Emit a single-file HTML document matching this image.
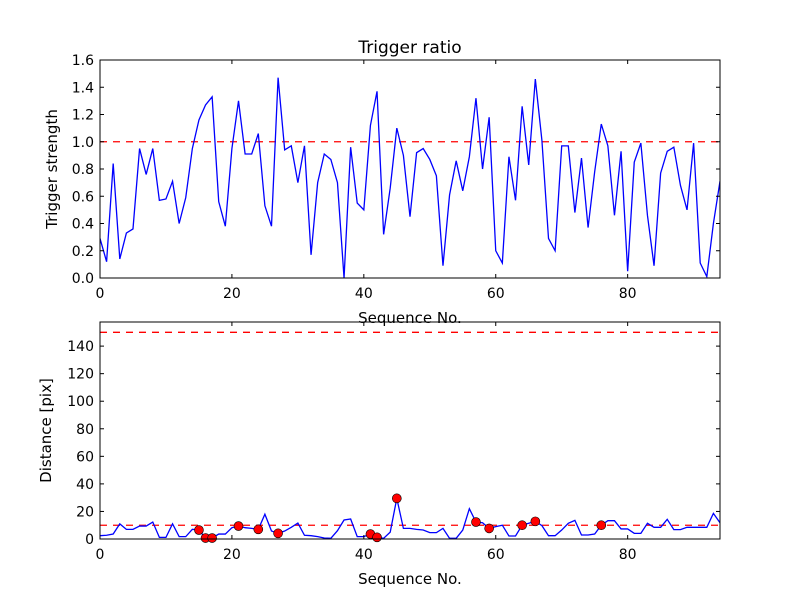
<!DOCTYPE html>
<html><head><meta charset="utf-8"><style>
body{margin:0;background:#fff}
svg{display:block;font-family:"DejaVu Sans","Liberation Sans",sans-serif}
</style></head><body>
<svg id="chart" width="800" height="600" viewBox="0 0 800 600" xmlns="http://www.w3.org/2000/svg">
<rect width="800" height="600" fill="#fff"/>
</svg>
<script>
const ratioValues=[0.29,0.12,0.84,0.14,0.33,0.36,0.95,0.76,0.95,0.57,0.58,0.71,0.40,0.59,0.95,1.16,1.27,1.33,0.56,0.38,0.95,1.30,0.91,0.91,1.06,0.53,0.38,1.47,0.94,0.97,0.70,0.97,0.17,0.70,0.91,0.87,0.70,0.0,0.96,0.55,0.50,1.12,1.37,0.32,0.66,1.10,0.90,0.45,0.92,0.95,0.87,0.75,0.09,0.61,0.86,0.64,0.89,1.32,0.80,1.18,0.20,0.11,0.89,0.57,1.26,0.83,1.46,1.01,0.29,0.20,0.97,0.97,0.48,0.88,0.37,0.78,1.13,0.97,0.46,0.93,0.05,0.85,0.99,0.46,0.09,0.77,0.93,0.96,0.68,0.50,0.99,0.11,0.01,0.40,0.71];
const distValues=[2.4,2.7,3.6,11,7,7,9.4,9.4,12.3,1.2,1.2,11,1.7,1.7,7,6.5,0.7,0.7,3.6,3.6,8.2,9.4,8.2,7.7,7,18,5.8,4.1,5.8,8.5,11.6,2.7,2.4,1.7,0.7,0.5,6,13.8,14.5,1.7,1.7,3.6,1.2,0.5,5,29.5,7.7,7.7,7,6.5,4.6,4.6,7.7,0.5,0.5,6.5,22,12.3,11.8,7.7,9,10,2.2,2.2,10,11.4,12.8,9.7,2.4,2.4,6.5,11.4,13.5,2.9,2.9,3.6,10,13.3,13.3,7.3,7.3,4.1,4.1,11.4,8.5,8.5,14.3,6.8,6.8,8.5,8.5,8.5,8.5,18.6,11.8];
const triggerIdx=[15,16,17,21,24,27,41,42,45,57,59,64,66,76];
const xTicks=[0,20,40,60,80];
const ratioTicks=[0.0,0.2,0.4,0.6,0.8,1.0,1.2,1.4,1.6];
const distTicks=[0,20,40,60,80,100,120,140];
const ratioThreshold=1.0;
const distThresholds=[10,150];

const NS="http://www.w3.org/2000/svg";
const svg=document.getElementById('chart');
function mk(tag,attrs,parent){const e=document.createElementNS(NS,tag);for(const k in attrs)e.setAttribute(k,attrs[k]);(parent||svg).appendChild(e);return e;}

function panel(o){
  const g=mk('g',{});
  
  
  const sx=v=>o.x0+(v-o.xmin)/(o.xmax-o.xmin)*(o.x1-o.x0);
  const sy=v=>o.y1-(v-o.ymin)/(o.ymax-o.ymin)*(o.y1-o.y0);
  const clip='clip-'+o.name;
  const cp=mk('clipPath',{id:clip},g);mk('rect',{x:o.x0,y:o.y0,width:o.x1-o.x0,height:o.y1-o.y0},cp);
  const plot=mk('g',{'clip-path':'url(#'+clip+')'},g);
  o.hlines.forEach(h=>{
    const l=mk('line',{x1:o.x0,x2:o.x1,y1:sy(h),y2:sy(h),stroke:'#ff0000','stroke-width':1.3,'stroke-dasharray':'7,6'},plot);
    
    
  });
  const pts=o.values.map((v,i)=>sx(i).toFixed(2)+','+sy(v).toFixed(2)).join(' ');
  const pl=mk('polyline',{points:pts,fill:'none',stroke:'#0000ff','stroke-width':1.3},plot);
  
  
  if(o.markers){o.markers.forEach(i=>{
    const c=mk('circle',{cx:sx(i),cy:sy(o.values[i]),r:4.5,fill:'#ff0000',stroke:'#000','stroke-width':0.6},g);
    
    
  });}
  const fr=mk('rect',{x:o.x0,y:o.y0,width:o.x1-o.x0,height:o.y1-o.y0,fill:'none',stroke:'#000','stroke-width':1},g);
  
  
  xTicks.forEach(t=>{
    const x=sx(t);
    mk('line',{x1:x,x2:x,y1:o.y1,y2:o.y1-4,stroke:'#000'},g);
    mk('line',{x1:x,x2:x,y1:o.y0,y2:o.y0+4,stroke:'#000'},g);
    const tx=mk('text',{x:x,y:o.y1+20,'text-anchor':'middle','font-size':14},g);tx.textContent=t;
    
    
  });
  o.yTicks.forEach(t=>{
    const y=sy(t);
    mk('line',{x1:o.x0,x2:o.x0+4,y1:y,y2:y,stroke:'#000'},g);
    mk('line',{x1:o.x1,x2:o.x1-4,y1:y,y2:y,stroke:'#000'},g);
    const tx=mk('text',{x:o.x0-6,y:y+5,'text-anchor':'end','font-size':14},g);tx.textContent=o.fmt(t);
    
    
  });
  const xl=mk('text',{x:(o.x0+o.x1)/2,y:o.y1+45,'text-anchor':'middle','font-size':15},g);xl.textContent='Sequence No.';
  
  
  const yl=mk('text',{x:0,y:0,'text-anchor':'middle','font-size':15,transform:'translate('+o.ylx+','+((o.y0+o.y1)/2)+') rotate(-90)'},g);yl.textContent=o.ylabel;
  
  
}
const title=mk('text',{x:410,y:53,'text-anchor':'middle','font-size':17});title.textContent='Trigger ratio';


panel({name:'ratio-panel',x0:100,x1:720,y0:60,y1:278,xmin:0,xmax:94,ymin:0,ymax:1.6,values:ratioValues,hlines:[ratioThreshold],yTicks:ratioTicks,fmt:t=>t.toFixed(1),ylabel:'Trigger strength',ylx:57});
panel({name:'distance-panel',x0:100,x1:720,y0:322,y1:539,xmin:0,xmax:94,ymin:0,ymax:157.5,values:distValues,hlines:distThresholds,markers:triggerIdx,yTicks:distTicks,fmt:t=>String(t),ylabel:'Distance [pix]',ylx:51});
</script>
</body></html>
